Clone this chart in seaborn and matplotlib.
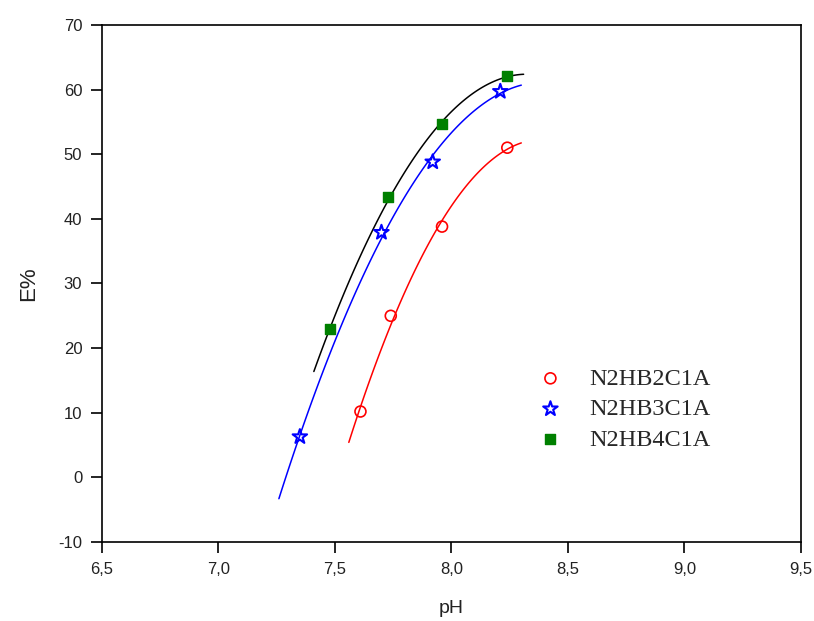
import numpy as np
import pandas as pd
import matplotlib
matplotlib.use('Agg')
import matplotlib.pyplot as plt
import seaborn as sns

# data
series = ['N2HB2C1A', 'N2HB3C1A', 'N2HB4C1A']
ph_2 = [7.61, 7.74, 7.96, 8.24]
e_2 = [10.2, 25.0, 38.8, 51.0]
ph_3 = [7.35, 7.70, 7.92, 8.21]
e_3 = [6.3, 37.9, 48.8, 59.7]
ph_4 = [7.48, 7.73, 7.96, 8.24]
e_4 = [23.0, 43.4, 54.6, 62.1]
# pH span of each fitted curve
fit_lo = [7.56, 7.26, 7.41]
fit_hi = [8.30, 8.30, 8.31]

pts = pd.DataFrame({
    'pH': ph_2 + ph_3 + ph_4,
    'E%': e_2 + e_3 + e_4,
    'sample': [series[0]] * 4 + [series[1]] * 4 + [series[2]] * 4,
})

# quadratic fit per sample for the smooth curves
curves = []
for name, lo, hi in zip(series, fit_lo, fit_hi):
    d = pts[pts['sample'] == name]
    c = np.polyfit(d['pH'], d['E%'], 2)
    xs = np.linspace(lo, hi, 120)
    curves.append(pd.DataFrame({'pH': xs, 'E%': np.polyval(c, xs), 'sample': name}))
curves = pd.concat(curves)

sns.set_style('ticks')
plt.rcParams['font.family'] = ['Liberation Sans', 'DejaVu Sans']
plt.rcParams['axes.unicode_minus'] = False

fig = plt.figure(figsize=(8.14, 6.21), dpi=100)
ax = fig.add_axes([0.125, 0.127, 0.859, 0.833])

line_cols = {'N2HB2C1A': 'red', 'N2HB3C1A': 'blue', 'N2HB4C1A': 'black'}
sns.lineplot(data=curves, x='pH', y='E%', hue='sample', palette=line_cols,
             sort=False, estimator=None, lw=1.1, legend=False, ax=ax)

mk_cols = {'N2HB2C1A': 'red', 'N2HB3C1A': 'blue', 'N2HB4C1A': 'green'}
for name, m, fc, s, lw in [('N2HB2C1A', 'o', 'none', 62, 1.2),
                           ('N2HB3C1A', '*', 'none', 120, 1.5),
                           ('N2HB4C1A', 's', 'green', 48, 1.0)]:
    d = pts[pts['sample'] == name]
    ax.scatter(d['pH'], d['E%'], marker=m, s=s, facecolors=fc,
               edgecolors=mk_cols[name], linewidths=lw, label=name, zorder=3)

ax.set_xlim(6.5, 9.5)
ax.set_ylim(-10, 70)
ax.set_xticks(np.arange(6.5, 9.6, 0.5))
ax.set_xticklabels([f'{v:.1f}'.replace('.', ',') for v in np.arange(6.5, 9.6, 0.5)])
ax.set_yticks(range(-10, 71, 10))
ax.tick_params(direction='out', length=8, width=1.2, pad=6, labelsize=12,
               colors='black', labelcolor='#222222')
for sp in ax.spines.values():
    sp.set_visible(True)
    sp.set_color('black')
    sp.set_linewidth(1.2)

ax.set_xlabel('pH', fontsize=14, labelpad=17, color='#222222')
ax.set_ylabel('E%', fontsize=16, labelpad=14, color='#222222')

leg = ax.legend(loc='upper left', bbox_to_anchor=(0.593, 0.356), frameon=False,
                prop={'family': 'Liberation Serif', 'size': 17.5},
                handletextpad=0.6, labelspacing=0.35, borderaxespad=0)

fig.savefig('out.png', dpi=100)
